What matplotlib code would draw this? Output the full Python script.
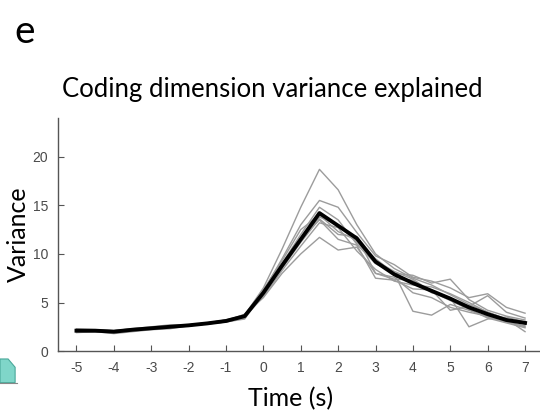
import numpy as np
import matplotlib.pyplot as plt
from matplotlib.patches import Polygon

plt.rcParams['axes.unicode_minus'] = False

# time points (s), sampled every 0.5 s
time = np.arange(-5, 7.01, 0.5)

# pre-stimulus part shared shape (-5 .. -0.5), then per-session values (0 .. 7)
pre_mean = [2.1, 2.1, 2.0, 2.2, 2.35, 2.5, 2.65, 2.85, 3.1, 3.6]
post_mean = [6.0, 8.8, 11.5, 14.2, 12.9, 11.6, 9.2, 7.9, 7.0, 6.2, 5.4, 4.5, 3.8, 3.2, 2.9]

pre_sessions = [
    [2.3, 2.2, 2.1, 2.3, 2.4, 2.6, 2.7, 2.9, 3.2, 3.7],
    [2.0, 2.0, 1.8, 2.0, 2.2, 2.3, 2.6, 2.8, 3.0, 3.4],
    [2.2, 2.1, 2.1, 2.3, 2.5, 2.7, 2.7, 2.9, 3.1, 3.8],
    [1.9, 2.0, 1.9, 2.1, 2.3, 2.4, 2.6, 2.8, 3.0, 3.3],
    [2.1, 2.2, 2.0, 2.2, 2.3, 2.5, 2.7, 2.9, 3.2, 3.6],
    [2.2, 2.1, 2.1, 2.2, 2.4, 2.6, 2.6, 2.8, 3.1, 3.7],
    [2.0, 2.0, 1.9, 2.1, 2.3, 2.5, 2.7, 2.9, 3.1, 3.5],
    [2.1, 2.2, 2.1, 2.2, 2.4, 2.5, 2.6, 2.8, 3.0, 3.6],
    [2.2, 2.1, 2.0, 2.2, 2.3, 2.4, 2.7, 2.9, 3.2, 3.7],
]
post_sessions = [
    [6.5, 10.5, 14.8, 18.7, 16.6, 13.0, 10.0, 8.5, 7.5, 6.8, 5.8, 4.8, 4.0, 3.3, 2.8],
    [6.2, 9.5, 13.0, 15.5, 14.8, 12.2, 9.8, 8.9, 7.6, 7.2, 6.5, 5.5, 5.9, 4.5, 3.9],
    [5.5, 8.0, 10.0, 11.7, 10.4, 10.7, 8.0, 7.6, 6.0, 5.5, 4.5, 4.0, 3.6, 3.0, 2.6],
    [6.0, 9.0, 12.0, 14.8, 13.5, 11.0, 9.0, 8.0, 4.1, 3.7, 4.8, 4.2, 3.5, 3.0, 2.5],
    [5.8, 8.5, 11.2, 13.6, 12.0, 11.8, 8.0, 7.4, 7.3, 6.0, 5.5, 2.5, 3.3, 3.5, 3.0],
    [6.3, 9.3, 12.5, 14.0, 12.3, 11.4, 9.5, 8.0, 7.8, 7.0, 7.4, 5.3, 4.2, 3.6, 3.2],
    [5.6, 8.3, 10.8, 13.2, 12.7, 10.3, 8.4, 7.2, 6.8, 6.6, 5.9, 5.0, 4.0, 3.3, 2.0],
    [6.1, 8.8, 11.6, 13.5, 11.5, 10.9, 7.5, 7.3, 6.4, 6.3, 4.2, 4.6, 5.7, 4.0, 3.4],
    [5.9, 8.9, 11.3, 13.8, 13.0, 11.2, 9.3, 8.2, 7.4, 6.1, 5.2, 4.3, 3.4, 2.9, 2.4],
]

x_ticks = list(range(-5, 8))
y_ticks = [0, 5, 10, 15, 20]

fig = plt.figure(figsize=(5.4, 4.15), dpi=100)
ax = fig.add_axes([0.107, 0.154, 0.893, 0.562])

for pre, post in zip(pre_sessions, post_sessions):
    ax.plot(time, pre + post, color='#9c9c9c', lw=1.0, zorder=2)
ax.plot(time, pre_mean + post_mean, color='black', lw=2.8, zorder=3)

ax.set_xlim(-5.5, 7.4)
ax.set_ylim(0, 24)
ax.set_xticks(x_ticks)
ax.set_yticks(y_ticks)
ax.tick_params(direction='in', length=4, width=0.8, color='#555555',
               labelcolor='#4a4a4a', labelsize=10, pad=7)
for lab in ax.get_xticklabels() + ax.get_yticklabels():
    lab.set_family('Liberation Sans')
for s in ['top', 'right']:
    ax.spines[s].set_visible(False)
for s in ['left', 'bottom']:
    ax.spines[s].set_color('#555555')
    ax.spines[s].set_linewidth(1.0)

ax.set_xlabel('Time (s)', fontsize=18, family='Lato')
ax.xaxis.set_label_coords(0.483, -0.155)
ax.set_ylabel('Variance', fontsize=18, family='Lato', labelpad=2)
fig.text(0.505, 0.785, 'Coding dimension variance explained', ha='center',
         va='center', fontsize=18.5, family='Lato')
fig.text(0.026, 0.922, 'e', ha='left', va='center', fontsize=28, family='Lato')

# fragment of neighbouring panel at the lower-left edge
frag = Polygon([[0, 0.078], [0.028, 0.078], [0.028, 0.115], [0.015, 0.135],
                [0, 0.135]], closed=True, transform=fig.transFigure,
               facecolor='#7fd6c9', edgecolor='#4aa89a', lw=0.8)
fig.patches.append(frag)
fig.add_artist(plt.Line2D([0, 0.032], [0.078, 0.078], transform=fig.transFigure,
                          color='#888888', lw=0.8))

fig.savefig('out.png', dpi=100)
